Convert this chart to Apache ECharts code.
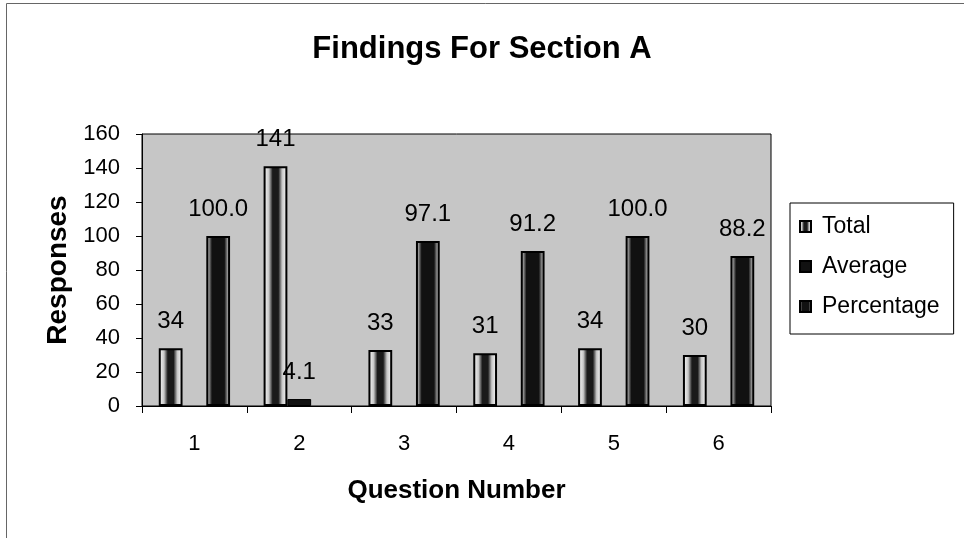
<!DOCTYPE html>
<html>
<head>
<meta charset="utf-8">
<script src="https://cdn.jsdelivr.net/npm/echarts@6/dist/echarts.min.js"></script>
<style>
html,body{margin:0;padding:0;background:#fff;}
#chart{width:964px;height:538px;}
</style>
</head>
<body>
<div id="chart"></div>
<script>
var categories = ['1', '2', '3', '4', '5', '6'];
var seriesNames = ['Total', 'Average', 'Percentage'];
var totalValues = [34, 141, 33, 31, 34, 30];
var averageValues = [null, 4.1, null, null, null, null];
var percentageValues = [100.0, null, 97.1, 91.2, 100.0, 88.2];
var yTicks = [0, 20, 40, 60, 80, 100, 120, 140, 160];

var FONT = '"Liberation Sans", Arial, sans-serif';

var chart = echarts.init(document.getElementById('chart'), null, {renderer: 'canvas'});

function stripe(edge, mid, a, b) {
  return {
    type: 'linear', x: 0, y: 0, x2: 1, y2: 0,
    colorStops: [
      {offset: 0, color: '#ffffff'},
      {offset: a, color: edge},
      {offset: b, color: mid},
      {offset: 1 - b, color: mid},
      {offset: 1 - a, color: edge},
      {offset: 1, color: '#ffffff'}
    ]
  };
}

var labelCommon = {
  show: true,
  position: 'top',
  distance: 15,
  color: '#000',
  fontFamily: FONT,
  fontSize: 24
};

var option = {
  backgroundColor: '#ffffff',
  animation: false,
  title: {
    text: 'Findings For Section A',
    left: 'center',
    top: 29,
    textStyle: {fontFamily: FONT, fontSize: 31, fontWeight: 'bold', color: '#000'}
  },
  graphic: [{
    type: 'rect',
    shape: {x: 6.5, y: 3.5, width: 1000, height: 600},
    style: {fill: 'none', stroke: '#666', lineWidth: 1},
    silent: true
  }],
  legend: {
    orient: 'vertical',
    left: 790,
    top: 203,
    padding: [11, 14, 15, 9],
    itemGap: 15,
    itemWidth: 11,
    itemHeight: 11,
    borderColor: '#000',
    borderWidth: 1,
    icon: 'rect',
    textStyle: {fontFamily: FONT, fontSize: 23, color: '#000', lineHeight: 25, padding: [0, 0, 0, 6]},
    data: seriesNames
  },
  grid: {
    left: 142, right: 193, top: 134, bottom: 132,
    show: true,
    backgroundColor: '#c6c6c6',
    borderColor: '#000',
    borderWidth: 1
  },
  xAxis: {
    type: 'category',
    data: categories,
    name: 'Question Number',
    nameLocation: 'middle',
    nameGap: 72,
    nameTextStyle: {fontFamily: FONT, fontSize: 26, fontWeight: 'bold', color: '#000'},
    axisLine: {lineStyle: {color: '#000', width: 1}},
    axisTick: {show: true, length: 7, lineStyle: {color: '#000'}},
    axisLabel: {fontFamily: FONT, fontSize: 22, color: '#000', margin: 27},
    splitLine: {show: false}
  },
  yAxis: {
    type: 'value',
    min: yTicks[0],
    max: yTicks[yTicks.length - 1],
    interval: yTicks[1] - yTicks[0],
    name: 'Responses',
    nameLocation: 'middle',
    nameGap: 66,
    nameRotate: 90,
    nameTextStyle: {fontFamily: FONT, fontSize: 28, fontWeight: 'bold', color: '#000'},
    axisLine: {show: true, lineStyle: {color: '#000', width: 1}},
    axisTick: {show: true, length: 6, lineStyle: {color: '#000'}},
    axisLabel: {fontFamily: FONT, fontSize: 22, color: '#000', margin: 22},
    splitLine: {show: false}
  },
  series: [
    {
      name: seriesNames[0],
      type: 'bar',
      data: totalValues,
      barGap: '0%',
      barCategoryGap: '32%',
      itemStyle: {color: stripe('#c8c8c8', '#1a1a1a', 0.22, 0.38), borderColor: '#000', borderWidth: 2},
      label: Object.assign({}, labelCommon, {formatter: function (p) { return String(p.value); }})
    },
    {
      name: seriesNames[1],
      type: 'bar',
      data: averageValues,
      barGap: '0%',
      barCategoryGap: '32%',
      itemStyle: {color: '#111111', borderColor: '#000', borderWidth: 1},
      label: Object.assign({}, labelCommon, {formatter: function (p) { return Number(p.value).toFixed(1); }})
    },
    {
      name: seriesNames[2],
      type: 'bar',
      data: percentageValues,
      barGap: '0%',
      barCategoryGap: '32%',
      itemStyle: {color: stripe('#9a9a9a', '#111111', 0.1, 0.24), borderColor: '#000', borderWidth: 2},
      label: Object.assign({}, labelCommon, {formatter: function (p) { return Number(p.value).toFixed(1); }})
    }
  ]
};

chart.setOption(option);
</script>
</body>
</html>
